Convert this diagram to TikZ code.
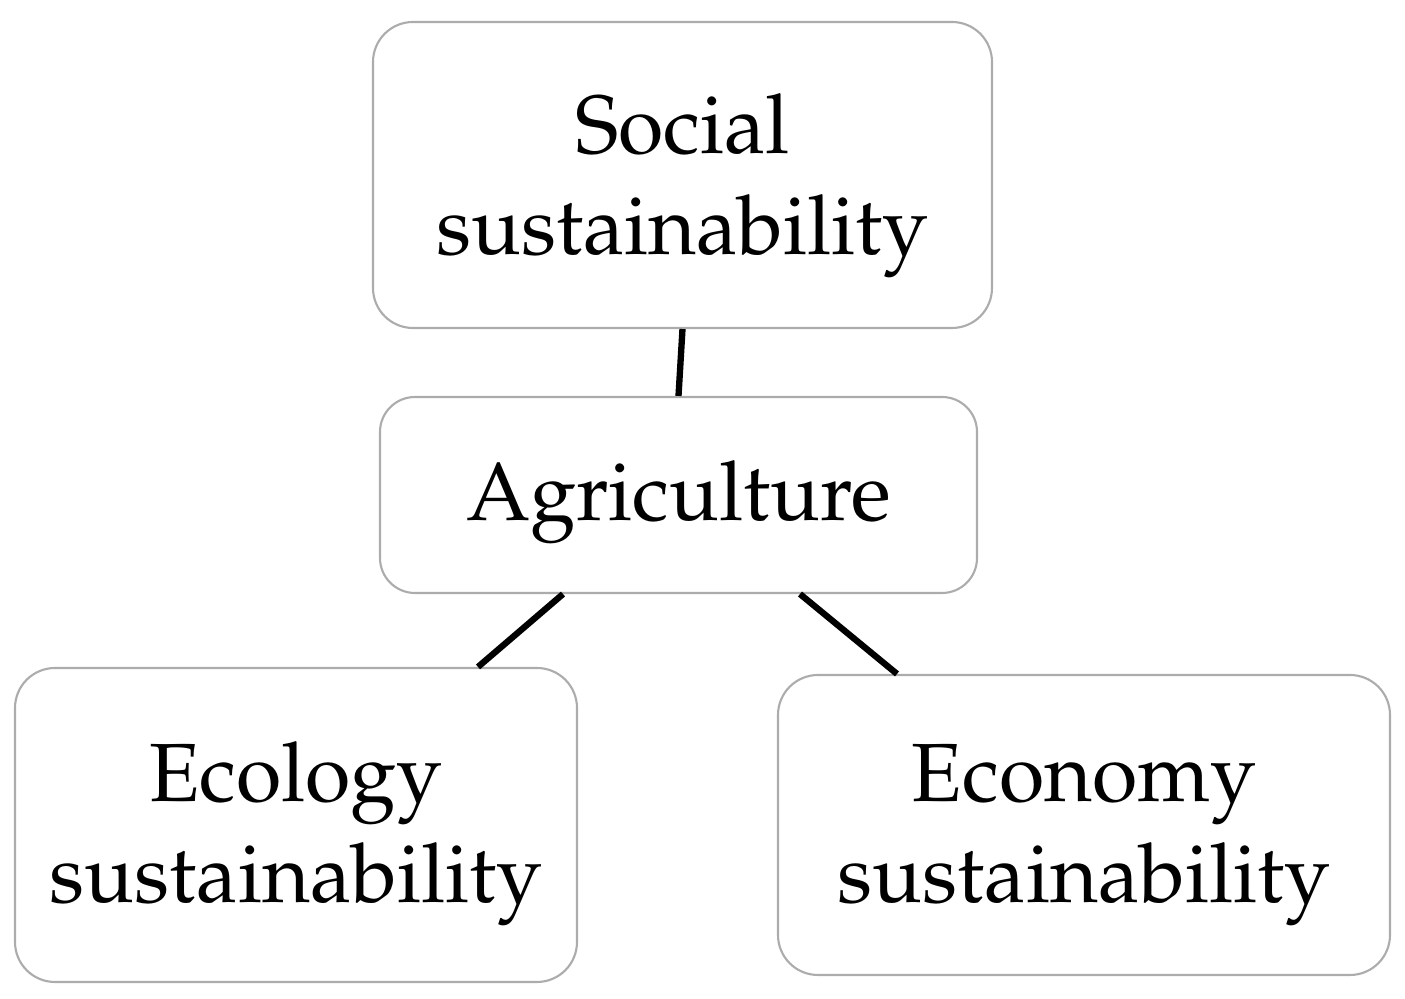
\documentclass[tikz,border=0pt]{standalone}
\usepackage[T1]{fontenc}
\usepackage{mathpazo}
\begin{document}
\begin{tikzpicture}[
  sbox/.style={draw=gray!65,line width=0.6pt,rounded corners=0.4cm,fill=white,
    align=center,inner sep=0pt,font=\fontsize{23.5}{28.8}\selectfont},
  push/.style={execute at begin node={\rule{0pt}{#1}}},
  link/.style={line width=1.8pt,black}]
\useasboundingbox (0,0) rectangle (14.05,9.99);
%\draw[step=0.5cm,gray,very thin] (0,0) grid (14.05,9.99); %background grid
\node[sbox,push=52pt,minimum width=6.19cm,minimum height=3.06cm] (social) at (6.825,8.24) {Social\\sustainability};
\node[sbox,push=21pt,minimum width=5.97cm,minimum height=1.96cm,rounded corners=0.35cm] (agri) at (6.785,5.04) {Agriculture};
\node[sbox,push=51pt,minimum width=5.62cm,minimum height=3.14cm] (ecol) at (2.96,1.74) {Ecology\\sustainability};
\node[sbox,push=51pt,minimum width=6.12cm,minimum height=3.00cm] (econ) at (10.84,1.74) {Economy\\sustainability};
\draw[link] (social.south) -- (agri.north);
\draw[link] ([xshift=-1.155cm]agri.south) -- ([xshift=1.82cm]ecol.north);
\draw[link] ([xshift=1.215cm]agri.south) -- ([xshift=-1.87cm]econ.north);
\end{tikzpicture}
\end{document}
